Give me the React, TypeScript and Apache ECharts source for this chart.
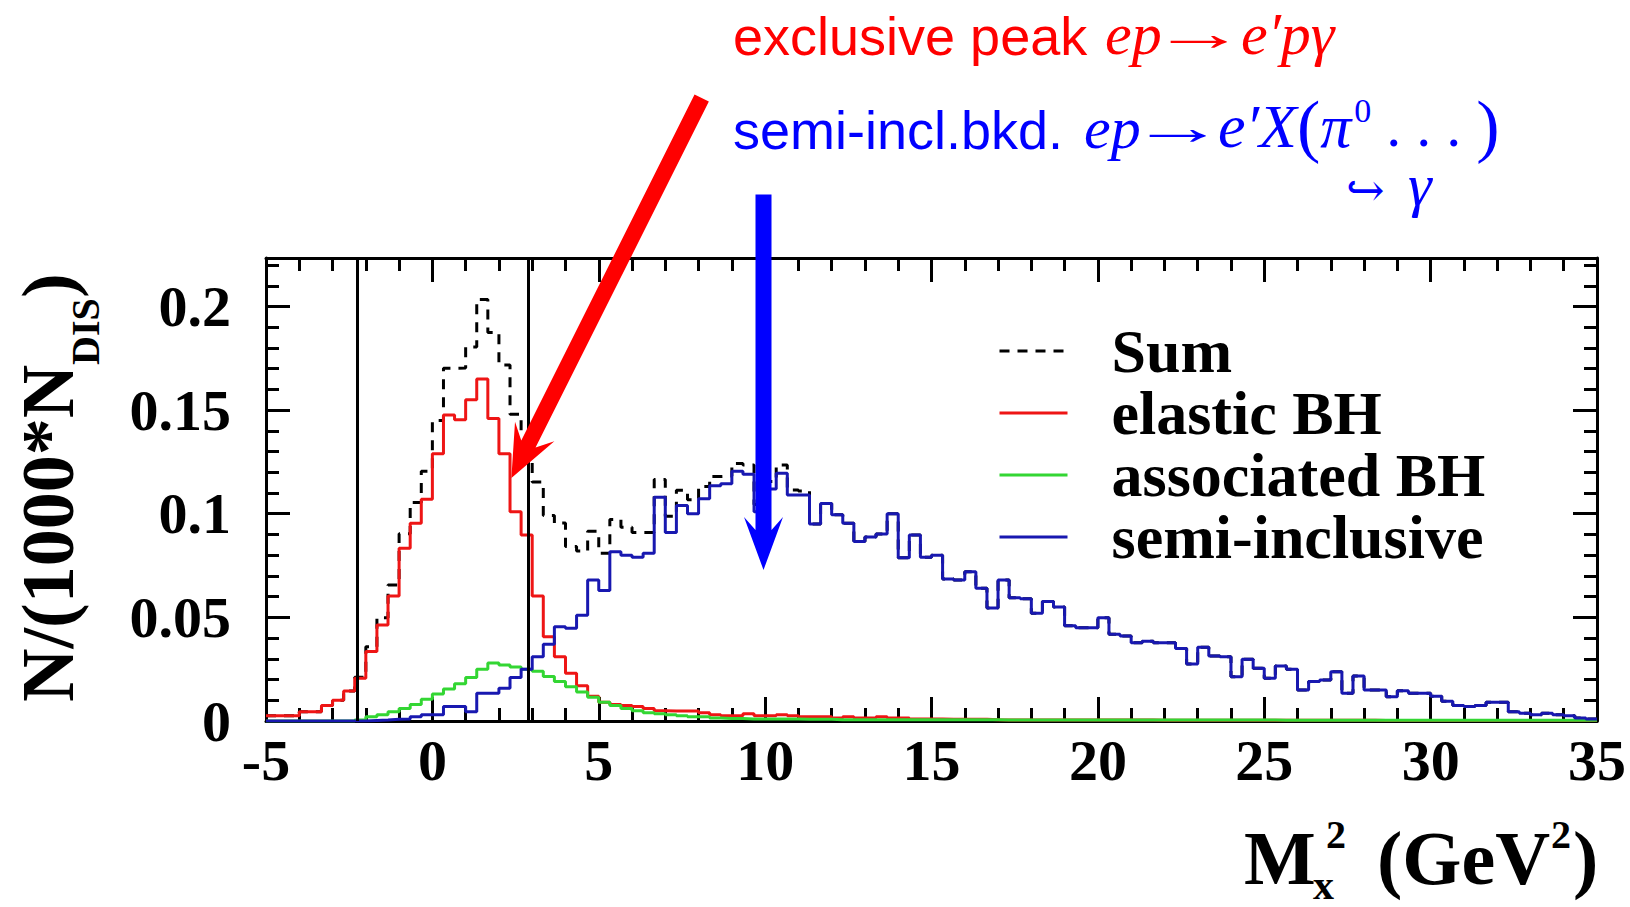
import React, { useEffect, useRef } from "react";
import * as echarts from "echarts";

// ---------------- data ----------------
const BIN_START = -5;
const BIN_WIDTH = 1 / 3;
const X_MIN = -5;
const X_MAX = 35;
const X_INTERVAL = 5;
const Y_MIN = 0;
const Y_MAX = 0.2234;
const Y_INTERVAL = 0.05;
const Y_MINOR_INTERVAL = 0.01;
const CUT_LINES = [-2.25, 2.89];
const SERIES_NAMES = ["Sum", "elastic BH", "associated BH", "semi-inclusive"];

const elasticBH = [
  0.0025, 0.0025, 0.0025, 0.0045, 0.0045, 0.0075, 0.01, 0.0145, 0.0206, 0.0335,
  0.0463, 0.0603, 0.0833, 0.0954, 0.107, 0.129, 0.1477, 0.1453, 0.155, 0.165,
  0.146, 0.129, 0.101, 0.0898, 0.0603, 0.0407, 0.031, 0.023, 0.017, 0.012,
  0.009, 0.008, 0.0075, 0.007, 0.006, 0.005, 0.0048, 0.0048, 0.0048, 0.004,
  0.003, 0.0025, 0.0025, 0.0035, 0.0025, 0.0025, 0.003, 0.0025, 0.002, 0.002,
  0.002, 0.0015, 0.002, 0.0015, 0.0015, 0.002, 0.0015, 0.0015, 0.001, 0.001,
  0.001, 0.0008, 0.0008, 0.0008, 0.0008, 0.0006, 0.0005, 0.0005, 0.0005, 0.0005,
  0.0005, 0.0005, 0.0005, 0.0005, 0.0005, 0.0005, 0.0005, 0.0005, 0.0005, 0.0005,
  0.0004, 0.0004, 0.0004, 0.0004, 0.0004, 0.0004, 0.0004, 0.0004, 0.0004, 0.0004,
  0.0004, 0.0004, 0.0004, 0.0004, 0.0004, 0.0004, 0.0004, 0.0004, 0.0004, 0.0004,
  0.0003, 0.0003, 0.0003, 0.0003, 0.0003, 0.0003, 0.0003, 0.0003, 0.0003, 0.0003,
  0.0003, 0.0003, 0.0003, 0.0003, 0.0003, 0.0003, 0.0003, 0.0003, 0.0003, 0.0003,
];

const associatedBH = [
  0, 0, 0, 0, 0, 0, 0, 0, 0.0005, 0.002,
  0.003, 0.0045, 0.006, 0.008, 0.0105, 0.013, 0.0155, 0.018, 0.021, 0.025,
  0.028, 0.027, 0.026, 0.025, 0.024, 0.0215, 0.019, 0.0165, 0.014, 0.0115,
  0.009, 0.0075, 0.006, 0.005, 0.004, 0.0035, 0.003, 0.0025, 0.002, 0.002,
  0.0015, 0.0012, 0.0012, 0.001, 0.001, 0.001, 0.001, 0.001, 0.0008, 0.0008,
  0.0008, 0.0006, 0.0006, 0.0006, 0.0006, 0.0006, 0.0006, 0.0006, 0.0006, 0.0006,
  0.0006, 0.0006, 0.0006, 0.0006, 0.0006, 0.0006, 0.0005, 0.0005, 0.0005, 0.0005,
  0.0005, 0.0005, 0.0005, 0.0005, 0.0005, 0.0005, 0.0005, 0.0005, 0.0005, 0.0005,
  0.0005, 0.0005, 0.0005, 0.0005, 0.0005, 0.0005, 0.0005, 0.0005, 0.0005, 0.0005,
  0.0005, 0.0004, 0.0004, 0.0004, 0.0004, 0.0004, 0.0004, 0.0004, 0.0004, 0.0004,
  0.0004, 0.0004, 0.0004, 0.0004, 0.0004, 0.0004, 0.0004, 0.0004, 0.0004, 0.0004,
  0.0004, 0.0004, 0.0004, 0.0004, 0.0004, 0.0004, 0.0004, 0.0004, 0.0004, 0.0004,
];

const semiInclusive = [
  0, 0, 0, 0, 0, 0, 0, 0, 0, 0.0003,
  0.0005, 0.0008, 0.001, 0.002, 0.003, 0.003, 0.007, 0.007, 0.0045, 0.0134,
  0.0134, 0.0158, 0.021, 0.025, 0.031, 0.037, 0.0455, 0.0447, 0.051, 0.068,
  0.063, 0.0817, 0.08, 0.079, 0.081, 0.108, 0.091, 0.104, 0.1, 0.1072,
  0.1135, 0.1145, 0.1205, 0.119, 0.101, 0.112, 0.1195, 0.109, 0.109, 0.095,
  0.105, 0.0995, 0.0954, 0.0866, 0.0888, 0.0902, 0.1, 0.0788, 0.0898, 0.079,
  0.08, 0.0685, 0.068, 0.072, 0.064, 0.0545, 0.068, 0.0595, 0.059, 0.052,
  0.0576, 0.055, 0.046, 0.045, 0.045, 0.0498, 0.0418, 0.041, 0.0378, 0.0385,
  0.0378, 0.0378, 0.035, 0.0275, 0.0356, 0.0314, 0.031, 0.0214, 0.0298, 0.0254,
  0.0206, 0.0265, 0.025, 0.015, 0.019, 0.0198, 0.0238, 0.0134, 0.0217, 0.015,
  0.015, 0.0117, 0.0146, 0.0134, 0.0134, 0.012, 0.0095, 0.0075, 0.007, 0.0075,
  0.009, 0.009, 0.0045, 0.0037, 0.003, 0.0037, 0.003, 0.0025, 0.0015, 0.001,
];

// dashed "Sum" (coincides with the blue curve above ~11 GeV^2)
const sumAll = [
  0.0025, 0.0025, 0.0025, 0.0045, 0.0045, 0.0075, 0.01, 0.0145, 0.0211, 0.0358,
  0.0498, 0.0656, 0.0903, 0.1054, 0.1205, 0.145, 0.1702, 0.1703, 0.1805, 0.2034,
  0.1874, 0.1718, 0.148, 0.1398, 0.1153, 0.0992, 0.0955, 0.0842, 0.082, 0.0915,
  0.081, 0.0972, 0.0935, 0.091, 0.091, 0.1165, 0.0988, 0.1113, 0.1068, 0.1132,
  0.118, 0.1182, 0.1242, 0.1235, 0.1045, 0.1155, 0.1235, 0.1115, 0.111, 0.095,
  0.105, 0.0995, 0.0954, 0.0866, 0.0888, 0.0902, 0.1, 0.0788, 0.0898, 0.079,
  0.08, 0.0685, 0.068, 0.072, 0.064, 0.0545, 0.068, 0.0595, 0.059, 0.052,
  0.0576, 0.055, 0.046, 0.045, 0.045, 0.0498, 0.0418, 0.041, 0.0378, 0.0385,
  0.0378, 0.0378, 0.035, 0.0275, 0.0356, 0.0314, 0.031, 0.0214, 0.0298, 0.0254,
  0.0206, 0.0265, 0.025, 0.015, 0.019, 0.0198, 0.0238, 0.0134, 0.0217, 0.015,
  0.015, 0.0117, 0.0146, 0.0134, 0.0134, 0.012, 0.0095, 0.0075, 0.007, 0.0075,
  0.009, 0.009, 0.0045, 0.0037, 0.003, 0.0037, 0.003, 0.0025, 0.0015, 0.001,
];

// ---------------- styling ----------------
const SERIF = "'Liberation Serif', 'Times New Roman', serif";
const SANS = "'Liberation Sans', Arial, sans-serif";
const BLACK = "#000000";
const RED_HIST = "#ee1515";
const GREEN_HIST = "#33d633";
const BLUE_HIST = "#1818b0";
const RED_NOTE = "#ff0000";
const BLUE_NOTE = "#0000ff";

const frameLine = { color: BLACK, width: 3 };

function toSteps(vals: number[]) {
  const pts: number[][] = vals.map((v, i) => [BIN_START + i * BIN_WIDTH, v]);
  pts.push([BIN_START + vals.length * BIN_WIDTH, vals[vals.length - 1]]);
  return pts;
}

// text placed by its alphabetic baseline (central baseline offset approx 0.34 em)
function txt(
  text: string,
  x: number,
  baseline: number,
  size: number,
  opts: {
    family?: string;
    style?: string;
    weight?: string;
    fill?: string;
    align?: string;
    scaleX?: number;
    rich?: any;
    lineHeight?: number;
  } = {}
) {
  const el: any = {
    type: "text",
    x,
    y: baseline - 0.34 * size,
    z: 100,
    silent: true,
    style: {
      text,
      fontSize: size,
      fontFamily: opts.family ?? SERIF,
      fontStyle: opts.style ?? "normal",
      fontWeight: opts.weight ?? "normal",
      fill: opts.fill ?? BLACK,
      textAlign: opts.align ?? "left",
      textVerticalAlign: "middle",
      align: opts.align ?? "left",
      verticalAlign: "middle",
    },
  };
  if (opts.lineHeight) el.style.lineHeight = opts.lineHeight;
  if (opts.rich) el.style.rich = opts.rich;
  if (opts.scaleX) el.scaleX = opts.scaleX;
  return el;
}

function arrowPolygon(
  start: number[],
  tip: number[],
  halfW: number,
  barbHalf: number,
  barbBack: number,
  notchBack: number
) {
  const dx = tip[0] - start[0];
  const dy = tip[1] - start[1];
  const len = Math.hypot(dx, dy);
  const d = [dx / len, dy / len];
  const n = [d[1], -d[0]];
  const at = (back: number, off: number) => [
    tip[0] - d[0] * back + n[0] * off,
    tip[1] - d[1] * back + n[1] * off,
  ];
  return [
    [start[0] - n[0] * halfW, start[1] - n[1] * halfW],
    at(notchBack, -halfW),
    at(barbBack, -barbHalf),
    [tip[0], tip[1]],
    at(barbBack, barbHalf),
    at(notchBack, halfW),
    [start[0] + n[0] * halfW, start[1] + n[1] * halfW],
  ];
}

function buildOption() {
  const hist = (name: string, vals: number[], color: string, dashed = false) => ({
    name,
    type: "line",
    step: "end",
    data: toSteps(vals),
    symbol: "none",
    showSymbol: false,
    xAxisIndex: 0,
    yAxisIndex: 0,
    lineStyle: { color, width: 3, type: dashed ? [10, 8] : "solid" },
    itemStyle: { color },
    emphasis: { disabled: true },
    silent: true,
  });

  const sumSeries: any = hist(SERIES_NAMES[0], sumAll, BLACK, true);
  sumSeries.markLine = {
    silent: true,
    symbol: ["none", "none"],
    label: { show: false },
    emphasis: { disabled: true },
    lineStyle: { color: BLACK, width: 3, type: "solid" },
    data: CUT_LINES.map((x) => ({ xAxis: x })),
  };

  const yTitleSize = 74;
  const ySubSize = 40;
  const xTitleSize = 76;
  const MATH = 60;
  const MATH_LH = 50;

  const mathRich = {
    m: { fontSize: 62, fontStyle: "italic", fontFamily: SERIF, fill: BLUE_NOTE, lineHeight: MATH_LH },
    p: { fontSize: 70, fontStyle: "normal", fontFamily: SERIF, fill: BLUE_NOTE, lineHeight: MATH_LH },
    s: {
      fontSize: 34,
      fontStyle: "normal",
      fontFamily: SERIF,
      fill: BLUE_NOTE,
      verticalAlign: "top",
      textVerticalAlign: "top",
      height: 20,
      lineHeight: MATH_LH,
      padding: [0, 0, 0, 3],
    },
    n: { fontSize: 60, fontStyle: "normal", fontFamily: SERIF, fill: BLUE_NOTE, lineHeight: MATH_LH },
  };

  const graphics: any[] = [
    // y-axis title, rotated
    {
      type: "group",
      x: 73,
      y: 702,
      rotation: Math.PI / 2,
      z: 100,
      children: [
        txt("N/(1000*N", 0, 0, yTitleSize, { weight: "bold" }),
        txt("DIS", 337, 26, ySubSize, { weight: "bold" }),
        txt(")", 404, 0, yTitleSize, { weight: "bold" }),
      ],
    },
    // x-axis title
    txt("M", 1244, 884, xTitleSize, { weight: "bold" }),
    txt("x", 1313, 899, 42, { weight: "bold" }),
    txt("2", 1326, 848, 40, { weight: "bold" }),
    txt("(GeV", 1377, 884, xTitleSize, { weight: "bold" }),
    txt("2", 1551, 848, 40, { weight: "bold" }),
    txt(")", 1573, 884, xTitleSize, { weight: "bold" }),
    // red annotation
    txt("exclusive peak", 733, 54, 54, { family: SANS, fill: RED_NOTE }),
    txt("ep", 1105, 54, MATH, { style: "italic", fill: RED_NOTE }),
    txt("→", 1199, 50, 50, { fill: RED_NOTE, align: "center", scaleX: 1.9 }),
    txt("e′pγ", 1241, 54, MATH, { style: "italic", fill: RED_NOTE }),
    // blue annotation
    txt("semi-incl.bkd.", 733, 148, 54, { family: SANS, fill: BLUE_NOTE }),
    txt("ep", 1084, 148, MATH, { style: "italic", fill: BLUE_NOTE }),
    txt("→", 1178, 144, 50, { fill: BLUE_NOTE, align: "center", scaleX: 1.9 }),
    txt("{m|e′X}{p|(}{m|π}{s|0}{n| . . . }{p|)}", 1218, 147, 62, {
      style: "italic",
      fill: BLUE_NOTE,
      rich: mathRich,
      lineHeight: MATH_LH,
    }),
    txt("↪", 1346, 206, 46, {
      family: "'DejaVu Serif', 'DejaVu Sans', serif",
      fill: BLUE_NOTE,
      lineHeight: 28,
    }),
    txt("γ", 1408, 205, 60, { style: "italic", fill: BLUE_NOTE, lineHeight: 28 }),
    // arrows
    {
      type: "polygon",
      z: 101,
      silent: true,
      shape: { points: arrowPolygon([701.7, 98], [511.4, 478], 8, 22, 52, 38) },
      style: { fill: RED_NOTE },
    },
    {
      type: "polygon",
      z: 101,
      silent: true,
      shape: { points: arrowPolygon([763.5, 194.5], [763.5, 570], 8, 19.5, 53, 40) },
      style: { fill: BLUE_NOTE },
    },
  ];

  const xBase = {
    type: "value",
    min: X_MIN,
    max: X_MAX,
    interval: X_INTERVAL,
    splitLine: { show: false },
    minorSplitLine: { show: false },
    axisLine: { show: true, onZero: false, lineStyle: frameLine },
    axisTick: { show: true, inside: true, length: 24, lineStyle: frameLine },
    minorTick: { show: true, splitNumber: 5, length: 13, lineStyle: frameLine },
  };

  const yBase = {
    type: "value",
    min: Y_MIN,
    max: Y_MAX,
    splitLine: { show: false },
    minorSplitLine: { show: false },
  };

  return {
    animation: false,
    backgroundColor: "#ffffff",
    grid: {
      left: 266,
      right: 33,
      top: 258,
      bottom: 186,
      containLabel: false,
      outerBoundsMode: "none",
    },
    legend: {
      show: true,
      orient: "vertical",
      left: 998,
      top: 320,
      padding: 0,
      itemGap: 0,
      itemWidth: 68,
      itemHeight: 4,
      selectedMode: false,
      data: SERIES_NAMES,
      itemStyle: { opacity: 0, borderWidth: 0 },
      lineStyle: { width: 3 },
      textStyle: {
        fontSize: 62,
        fontWeight: "bold",
        fontFamily: SERIF,
        color: BLACK,
        lineHeight: 62,
        padding: [0, 0, 0, 39],
      },
    },
    xAxis: [
      {
        ...xBase,
        position: "bottom",
        axisLabel: {
          show: true,
          margin: 10,
          fontSize: 58,
          fontWeight: "bold",
          fontFamily: SERIF,
          color: BLACK,
          showMinLabel: true,
          showMaxLabel: true,
        },
      },
      { ...xBase, position: "top", axisLabel: { show: false } },
    ],
    yAxis: [
      {
        ...yBase,
        position: "left",
        interval: Y_INTERVAL,
        axisLine: { show: true, onZero: false, lineStyle: frameLine },
        axisTick: { show: true, inside: true, length: 24, lineStyle: frameLine },
        axisLabel: {
          show: true,
          margin: 35,
          fontSize: 58,
          fontWeight: "bold",
          fontFamily: SERIF,
          color: BLACK,
          showMinLabel: true,
          showMaxLabel: false,
        },
      },
      {
        ...yBase,
        position: "left",
        interval: Y_MINOR_INTERVAL,
        axisLine: { show: false, onZero: false },
        axisTick: { show: true, inside: true, length: 13, lineStyle: frameLine },
        axisLabel: { show: false },
      },
      {
        ...yBase,
        position: "right",
        interval: Y_INTERVAL,
        axisLine: { show: true, onZero: false, lineStyle: frameLine },
        axisTick: { show: true, inside: true, length: 24, lineStyle: frameLine },
        axisLabel: { show: false },
      },
      {
        ...yBase,
        position: "right",
        interval: Y_MINOR_INTERVAL,
        axisLine: { show: false, onZero: false },
        axisTick: { show: true, inside: true, length: 13, lineStyle: frameLine },
        axisLabel: { show: false },
      },
    ],
    series: [
      sumSeries,
      hist(SERIES_NAMES[1], elasticBH, RED_HIST),
      hist(SERIES_NAMES[2], associatedBH, GREEN_HIST),
      hist(SERIES_NAMES[3], semiInclusive, BLUE_HIST),
    ],
    graphic: { elements: graphics },
  };
}

export default function App() {
  const ref = useRef<HTMLDivElement>(null);
  useEffect(() => {
    if (!ref.current) return;
    const chart = echarts.init(ref.current, undefined, { renderer: "svg" });
    chart.setOption(buildOption() as any);
    return () => {
      chart.dispose();
    };
  }, []);
  return (
    <div
      ref={ref}
      style={{
        position: "absolute",
        left: 0,
        top: 0,
        width: 1630,
        height: 907,
        background: "#ffffff",
      }}
    />
  );
}
